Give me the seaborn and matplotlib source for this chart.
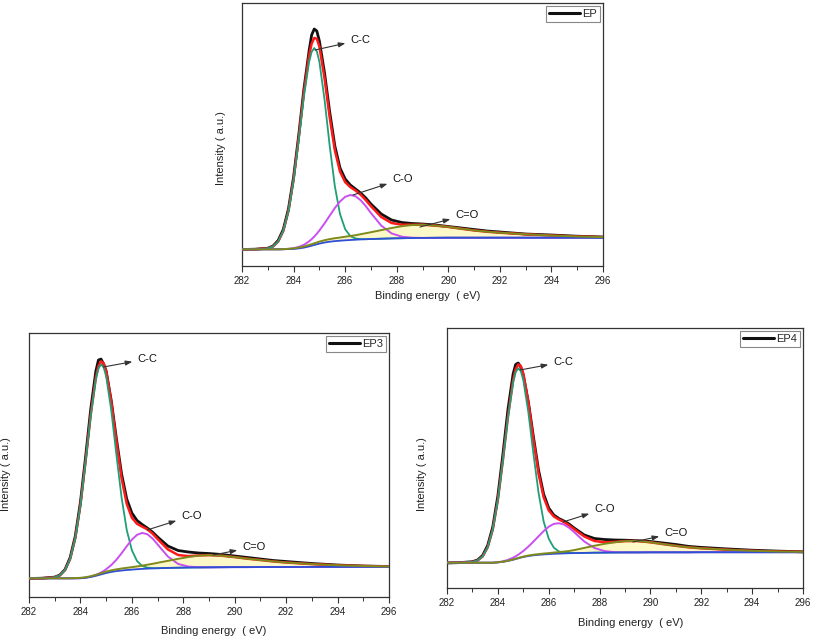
import numpy as np
import matplotlib
matplotlib.use("Agg")
import matplotlib.pyplot as plt
from matplotlib.lines import Line2D
from matplotlib.ticker import MultipleLocator
import seaborn as sns

sns.set_theme(style="white")
plt.rcParams['font.family'] = ['Liberation Sans', 'DejaVu Sans']

# ---------------- data (binding energy in eV, intensity in a.u.) ----------------
binding_energy = [282.0, 282.5, 283.0, 283.2, 283.4, 283.6, 283.8, 284.0, 284.2, 284.4,
                  284.6, 284.7, 284.8, 284.9, 285.0, 285.2, 285.4, 285.6, 285.8, 286.0,
                  286.2, 286.4, 286.6, 286.8, 287.0, 287.4, 287.8, 288.2, 288.6, 289.0,
                  289.5, 290.0, 290.5, 291.0, 291.5, 292.0, 293.0, 294.0, 295.0, 296.0]
x_ticks = [282, 284, 286, 288, 290, 292, 294, 296]
peak_labels = ["C-C", "C-O", "C=O"]
sample_names = ["EP", "EP3", "EP4"]

# --- EP ---
EP_background = [16.7, 16.7, 16.7, 16.7, 16.7, 16.8, 16.9, 17.1, 17.6, 18.4,
                 19.6, 20.3, 21.0, 21.7, 22.4, 23.5, 24.3, 24.9, 25.3, 25.7,
                 26.0, 26.3, 26.6, 26.8, 27.0, 27.3, 27.6, 27.8, 28.0, 28.1,
                 28.2, 28.3, 28.3, 28.3, 28.3, 28.3, 28.3, 28.3, 28.3, 28.3]
EP_CC = [0, 0, 0.9, 2.9, 7.7, 18.2, 37.6, 68.4, 108.7, 151.3,
         184.4, 193.8, 197.0, 193.1, 181.9, 143.0, 95.9, 54.8, 26.7, 11.1,
         3.9, 1.2, 0.3, 0, 0, 0, 0, 0, 0, 0,
         0, 0, 0, 0, 0, 0, 0, 0, 0, 0]
EP_CO = [0, 0, 0, 0, 0, 0, 0.3, 0.7, 1.5, 2.8,
         5.0, 6.6, 8.4, 10.6, 13.1, 19.1, 26.0, 33.1, 39.2, 43.5,
         45.0, 43.5, 39.2, 33.1, 26.0, 13.1, 5.0, 1.5, 0.3, 0,
         0, 0, 0, 0, 0, 0, 0, 0, 0, 0]
EP_CdO = [0, 0, 0, 0, 0, 0, 0.3, 0.5, 0.8, 1.1,
          1.4, 1.55, 1.7, 1.85, 2.0, 2.3, 2.6, 2.9, 3.2, 3.6,
          4.0, 4.5, 5.2, 6.0, 6.8, 8.6, 10.4, 12.0, 13.0, 13.2,
          12.2, 10.8, 9.0, 7.3, 6.0, 5.0, 3.4, 2.2, 1.2, 0.6]
EP_raw = [16.5, 16.8, 17.8, 20.0, 25.5, 36.5, 57.0, 89.0, 131.0, 177.0,
          215.0, 231.0, 237.0, 235.0, 225.0, 193.0, 154.0, 120.0, 98.0, 87.0,
          81.0, 77.0, 73.0, 68.0, 62.0, 52.0, 46.0, 43.5, 42.5, 42.0,
          41.0, 39.5, 38.0, 36.5, 35.0, 34.0, 32.0, 31.0, 29.8, 29.0]

# --- EP3 ---
EP3_background = [18.7, 18.7, 18.7, 18.7, 18.7, 18.7, 18.7, 18.8, 19.2, 20.0,
                  21.2, 21.9, 22.6, 23.3, 24.0, 25.1, 25.9, 26.5, 27.0, 27.4,
                  27.8, 28.1, 28.4, 28.6, 28.8, 29.1, 29.3, 29.5, 29.6, 29.7,
                  29.8, 29.9, 29.9, 30.0, 30.0, 30.0, 30.1, 30.1, 30.2, 30.2]
EP3_CC = [0, 0, 1.0, 3.0, 8.2, 19.4, 40.1, 72.9, 115.9, 161.3,
          196.6, 206.6, 210.0, 206.6, 196.6, 161.3, 115.9, 72.9, 40.1, 19.4,
          8.2, 3.0, 1.0, 0.3, 0, 0, 0, 0, 0, 0,
          0, 0, 0, 0, 0, 0, 0, 0, 0, 0]
EP3_CO = [0, 0, 0, 0, 0, 0, 0, 0, 0.2, 0.4,
          0.9, 1.3, 1.9, 2.7, 3.8, 6.9, 11.4, 17.3, 23.8, 30.0,
          34.4, 36.0, 34.4, 30.0, 23.8, 11.4, 3.8, 0.9, 0.2, 0,
          0, 0, 0, 0, 0, 0, 0, 0, 0, 0]
EP3_CdO = [0, 0, 0, 0, 0, 0, 0.2, 0.4, 0.6, 0.8,
           1.0, 1.1, 1.2, 1.3, 1.4, 1.6, 1.8, 2.0, 2.2, 2.5,
           2.8, 3.3, 3.9, 4.6, 5.4, 7.1, 8.9, 10.5, 11.8, 12.2,
           11.5, 10.0, 8.4, 7.0, 5.6, 4.5, 2.8, 1.6, 0.8, 0.3]
EP3_raw = [18.5, 18.8, 19.9, 22.0, 27.5, 39.5, 61.0, 95.0, 140.0, 188.0,
           226.0, 237.0, 238.0, 233.0, 226.0, 196.0, 158.0, 123.0, 98.0, 84.0,
           76.5, 72.5, 69.0, 65.0, 60.0, 51.0, 46.5, 45.0, 44.0, 43.5,
           42.5, 41.0, 39.5, 38.0, 36.5, 35.5, 33.5, 32.0, 31.0, 30.5]

# --- EP4 ---
EP4_background = [25.3, 25.3, 25.3, 25.3, 25.3, 25.3, 25.3, 25.6, 26.2, 27.1,
                  28.3, 29.0, 29.7, 30.4, 31.0, 32.0, 32.7, 33.2, 33.6, 33.9,
                  34.2, 34.4, 34.6, 34.8, 34.9, 35.1, 35.3, 35.4, 35.5, 35.6,
                  35.6, 35.7, 35.7, 35.7, 35.7, 35.8, 35.8, 35.8, 35.8, 35.8]
EP4_CC = [0, 0, 0.7, 2.2, 6.2, 15.4, 33.1, 62.1, 101.3, 143.6,
          177.1, 186.7, 190.0, 186.7, 177.1, 143.6, 101.3, 62.1, 33.1, 15.4,
          6.2, 2.2, 0.7, 0.2, 0, 0, 0, 0, 0, 0,
          0, 0, 0, 0, 0, 0, 0, 0, 0, 0]
EP4_CO = [0, 0, 0, 0, 0, 0, 0, 0.2, 0.5, 1.0,
          2.0, 2.7, 3.6, 4.7, 6.0, 9.4, 13.7, 18.5, 23.3, 27.4,
          29.9, 30.4, 28.9, 25.5, 21.0, 11.4, 4.7, 1.5, 0.3, 0,
          0, 0, 0, 0, 0, 0, 0, 0, 0, 0]
EP4_CdO = [0, 0, 0, 0, 0, 0, 0, 0.1, 0.1, 0.2,
           0.2, 0.25, 0.3, 0.35, 0.4, 0.5, 0.6, 0.7, 0.85, 1.0,
           1.25, 1.5, 1.85, 2.2, 3.0, 5.0, 7.0, 8.8, 10.3, 11.3,
           11.4, 10.0, 8.2, 6.5, 5.0, 3.9, 2.5, 1.4, 0.7, 0.3]
EP4_raw = [25.0, 25.4, 26.3, 28.0, 32.5, 42.5, 61.0, 92.0, 134.0, 179.0,
           214.0, 223.5, 225.0, 221.0, 213.0, 186.0, 151.0, 118.0, 94.0, 80.0,
           73.0, 69.5, 67.0, 64.0, 60.0, 53.0, 49.5, 48.5, 48.0, 47.8,
           47.3, 46.5, 45.0, 43.5, 41.6, 40.6, 39.1, 37.8, 36.9, 36.2]

# ---------------- layout ----------------
panels = [
    dict(name=sample_names[0], bg=EP_background, cc=EP_CC, co=EP_CO, cdo=EP_CdO, raw=EP_raw,
         rect=[0.2977, 0.5837, 0.4440, 0.4116], ytop=263,
         ylab=(-0.045, 0.449), xlab=(0.515, -0.095),
         ann=[((284.83, 216), (286.19, 226)), ((286.30, 71), (287.82, 87)), ((288.90, 39), (290.26, 51))]),
    dict(name=sample_names[1], bg=EP3_background, cc=EP3_CC, co=EP3_CO, cdo=EP3_CdO, raw=EP3_raw,
         rect=[0.0357, 0.0657, 0.4428, 0.4131], ytop=264,
         ylab=(-0.050, 0.466), xlab=(0.514, -0.110),
         ann=[((284.88, 230), (286.20, 238)), ((286.59, 67), (287.91, 81)), ((289.16, 42), (290.28, 50))]),
    dict(name=sample_names[2], bg=EP4_background, cc=EP4_CC, co=EP4_CO, cdo=EP4_CdO, raw=EP4_raw,
         rect=[0.5498, 0.0798, 0.4379, 0.4069], ytop=260,
         ylab=(-0.057, 0.44), xlab=(0.516, -0.115),
         ann=[((284.87, 218), (286.17, 226)), ((286.56, 66), (287.78, 79)), ((289.31, 46), (290.53, 55))]),
]

C_RAW = "#111111"
C_FIT = "#ff1a1a"
C_CC = "#1f9e78"
C_CO = "#c84ff0"
C_CDO = "#7f8a1c"
C_BG = "#2f4fd6"
C_FILL = "#fcf8c8"

fig = plt.figure(figsize=(8.13, 6.39), dpi=100)
X = np.array(binding_energy)

for p in panels:
    ax = fig.add_axes(p["rect"])
    bg = np.array(p["bg"])
    cc = np.array(p["cc"])
    co = np.array(p["co"])
    cdo = np.array(p["cdo"])
    envelope = bg + cc + co + cdo

    ax.fill_between(X, bg, bg + cdo, color=C_FILL, lw=0, zorder=1)
    sns.lineplot(x=X, y=np.array(p["raw"]), ax=ax, color=C_RAW, lw=2.0, estimator=None, sort=False, zorder=2)
    sns.lineplot(x=X, y=envelope, ax=ax, color=C_FIT, lw=1.8, estimator=None, sort=False, zorder=3)
    sns.lineplot(x=X, y=bg + cc, ax=ax, color=C_CC, lw=1.3, estimator=None, sort=False, zorder=4)
    sns.lineplot(x=X, y=bg + co, ax=ax, color=C_CO, lw=1.4, estimator=None, sort=False, zorder=5)
    sns.lineplot(x=X, y=bg, ax=ax, color=C_BG, lw=1.3, estimator=None, sort=False, zorder=6)
    sns.lineplot(x=X, y=bg + cdo, ax=ax, color=C_CDO, lw=1.4, estimator=None, sort=False, zorder=7)

    ax.set_xlim(282, 296)
    ax.set_ylim(0, p["ytop"])
    ax.set_xticks(x_ticks)
    ax.set_xticklabels([str(t) for t in x_ticks])
    ax.xaxis.set_minor_locator(MultipleLocator(1))
    ax.set_yticks([])
    ax.tick_params(axis="x", which="major", bottom=True, direction="out", length=4.5, width=0.8,
                   labelsize=7, labelcolor="#222222", color="#333333", pad=2.5)
    ax.tick_params(axis="x", which="minor", bottom=True, direction="out", length=3.2, width=0.7,
                   color="#333333")
    for s in ax.spines.values():
        s.set_color("#333333")
        s.set_linewidth(0.9)

    ax.set_xlabel("Binding energy  ( eV)", fontsize=8, color="#222222")
    ax.set_ylabel("Intensity ( a.u.)", fontsize=8, color="#222222")
    ax.xaxis.set_label_coords(*p["xlab"])
    ax.yaxis.set_label_coords(*p["ylab"])

    for lab, (xy, xyt) in zip(peak_labels, p["ann"]):
        ax.annotate(lab, xy=xy, xytext=xyt, textcoords="data", fontsize=8, ha="left", va="center",
                    color="#111111",
                    arrowprops=dict(arrowstyle="<|-,head_length=0.5,head_width=0.18", color="#333333",
                                    lw=0.8, shrinkA=1, shrinkB=0), zorder=10)

    leg = ax.legend(handles=[Line2D([], [], color=C_RAW, lw=2.2)], labels=[p["name"]],
                    loc="upper right", fontsize=8, frameon=True, fancybox=False, framealpha=1,
                    edgecolor="#888888", handlelength=2.8, borderpad=0.25, borderaxespad=0.3,
                    handletextpad=0.2)
    leg.get_frame().set_linewidth(0.8)

fig.savefig("out.png", dpi=100)
